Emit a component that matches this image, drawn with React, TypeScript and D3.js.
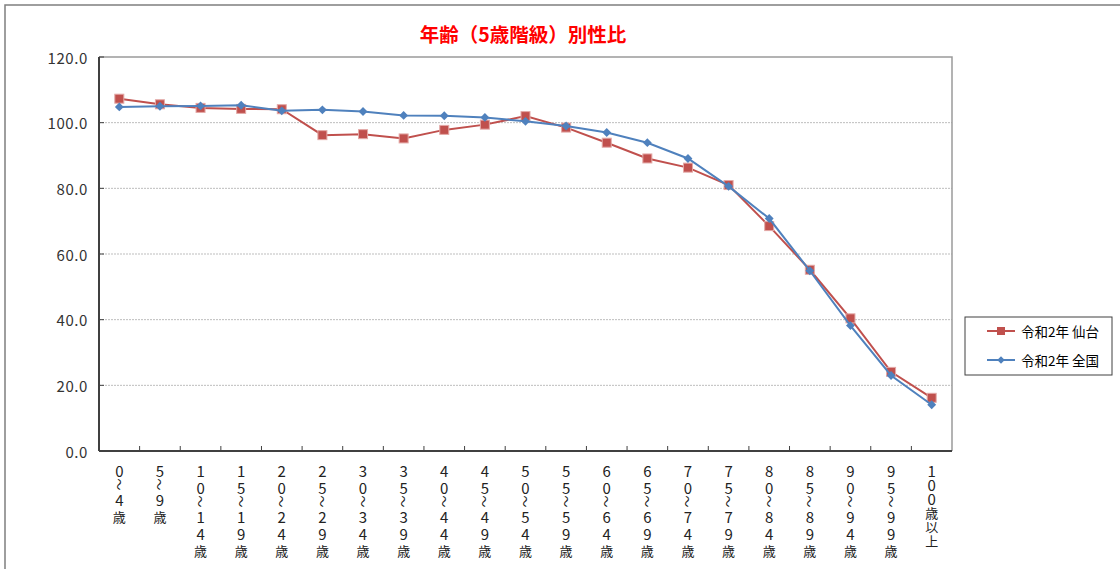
import React, { useEffect, useRef } from 'react'
import * as d3 from 'd3'

const ageLabels = [
  '0～4歳', '5～9歳', '10～14歳', '15～19歳', '20～24歳', '25～29歳', '30～34歳',
  '35～39歳', '40～44歳', '45～49歳', '50～54歳', '55～59歳', '60～64歳', '65～69歳',
  '70～74歳', '75～79歳', '80～84歳', '85～89歳', '90～94歳', '95～99歳', '100歳以上',
]
const sendai = [107.3, 105.6, 104.5, 104.2, 104.1, 96.2, 96.5, 95.2, 97.8, 99.4, 102.0, 98.5, 93.9, 89.1, 86.3, 81.0, 68.5, 55.2, 40.4, 24.1, 16.2]
const zenkoku = [104.8, 105.0, 105.1, 105.3, 103.6, 103.9, 103.4, 102.2, 102.1, 101.6, 100.4, 99.0, 97.0, 93.9, 89.1, 80.6, 70.8, 54.9, 38.2, 23.0, 14.1]
const yTicks = [0, 20, 40, 60, 80, 100, 120]
const seriesNames = ['令和2年 仙台', '令和2年 全国']

const W = 1120
const H = 569
const FONT = '"Noto Sans CJK JP", "Noto Sans", sans-serif'
const RED = '#C0504D'
const BLUE = '#4F81BD'

const App = () => {
  const ref = useRef<SVGSVGElement>(null)

  useEffect(() => {
    const svg = d3.select(ref.current)
    svg.selectAll('*').remove()

    const plot = { left: 99, right: 952, top: 57, bottom: 451 }
    const x = d3.scaleBand().domain(ageLabels).range([plot.left, plot.right])
    const y = d3.scaleLinear().domain([0, 120]).range([plot.bottom, plot.top])
    const cx = (i: number) => (x(ageLabels[i]) as number) + x.bandwidth() / 2

    // outer chart frame
    svg.append('rect')
      .attr('x', 5).attr('y', 5).attr('width', W + 20).attr('height', H + 20)
      .attr('fill', '#fff').attr('stroke', '#7f7f7f').attr('stroke-width', 1.5)

    svg.append('text')
      .text('年齢（5歳階級）別性比')
      .attr('x', 523).attr('y', 33)
      .attr('text-anchor', 'middle').attr('dominant-baseline', 'central')
      .attr('font-family', FONT).attr('font-weight', 'bold').attr('font-size', 19.5)
      .attr('fill', '#ff0000')

    // gridlines
    svg.append('g')
      .selectAll('line')
      .data(yTicks.filter(t => t > 0 && t < 120))
      .enter()
      .append('line')
      .attr('x1', plot.left).attr('x2', plot.right)
      .attr('y1', d => y(d)).attr('y2', d => y(d))
      .attr('stroke', '#bdbdbd').attr('stroke-dasharray', '2,1')

    // plot frame top / right
    svg.append('path')
      .attr('d', `M${plot.left},${plot.top}H${plot.right}V${plot.bottom}`)
      .attr('fill', 'none').attr('stroke', '#9a9a9a').attr('stroke-width', 1.5)

    // y axis
    svg.append('line')
      .attr('x1', plot.left).attr('x2', plot.left).attr('y1', plot.top).attr('y2', plot.bottom)
      .attr('stroke', '#404040').attr('stroke-width', 2)
    svg.append('g')
      .selectAll('line')
      .data(yTicks)
      .enter()
      .append('line')
      .attr('x1', plot.left).attr('x2', plot.left + 5)
      .attr('y1', d => y(d)).attr('y2', d => y(d))
      .attr('stroke', '#404040')
    svg.append('g')
      .selectAll('text')
      .data(yTicks)
      .enter()
      .append('text')
      .text(d => d.toFixed(1))
      .attr('x', 88).attr('y', d => y(d))
      .attr('text-anchor', 'end').attr('dominant-baseline', 'central')
      .attr('font-family', FONT).attr('font-size', 15).attr('letter-spacing', 0.6)
      .attr('fill', '#333')

    // x axis
    svg.append('line')
      .attr('x1', plot.left).attr('x2', plot.right).attr('y1', plot.bottom).attr('y2', plot.bottom)
      .attr('stroke', '#404040').attr('stroke-width', 2)
    svg.append('g')
      .selectAll('line')
      .data(ageLabels.slice(1))
      .enter()
      .append('line')
      .attr('x1', d => x(d) as number).attr('x2', d => x(d) as number)
      .attr('y1', plot.bottom).attr('y2', plot.bottom - 5)
      .attr('stroke', '#404040')

    // vertical category labels, one char per line
    ageLabels.forEach((lab, i) => {
      const chars = Array.from(lab)
      const last = !lab.includes('～')
      const step = (c: string) => (last ? 14 : c === '～' ? 12 : 17)
      let cy = 470
      const g = svg.append('g')
      chars.forEach((c, k) => {
        if (k > 0) cy += step(chars[k - 1]) / 2 + step(c) / 2
        const t = g.append('text')
          .text(c)
          .attr('x', cx(i)).attr('y', cy)
          .attr('text-anchor', 'middle').attr('dominant-baseline', 'central')
          .attr('font-family', FONT).attr('font-size', /[0-9]/.test(c) ? 15 : 13)
          .attr('fill', '#222')
        if (c === '～') t.attr('transform', `rotate(90, ${cx(i)}, ${cy})`).attr('font-size', 12)
      })
    })

    const line = d3.line<number>().x((_, i) => cx(i)).y(d => y(d))

    // 仙台
    svg.append('path').datum(sendai)
      .attr('d', line).attr('fill', 'none').attr('stroke', RED).attr('stroke-width', 2)
    svg.append('g').selectAll('rect')
      .data(sendai).enter().append('rect')
      .attr('x', (_, i) => cx(i) - 4.5).attr('y', d => y(d) - 4.5)
      .attr('width', 9).attr('height', 9)
      .attr('fill', RED).attr('stroke', '#e3a8a6').attr('stroke-width', 1)

    // 全国
    const diamond = d3.symbol().type(d3.symbolDiamond2).size(50)
    svg.append('path').datum(zenkoku)
      .attr('d', line).attr('fill', 'none').attr('stroke', BLUE).attr('stroke-width', 2)
    svg.append('g').selectAll('path')
      .data(zenkoku).enter().append('path')
      .attr('d', diamond)
      .attr('transform', (d, i) => `translate(${cx(i)},${y(d)})`)
      .attr('fill', BLUE)

    // legend
    const lg = svg.append('g')
    lg.append('rect')
      .attr('x', 965).attr('y', 317).attr('width', 147).attr('height', 58)
      .attr('fill', '#fff').attr('stroke', '#404040').attr('stroke-width', 1)
    const items = [
      { name: seriesNames[0], color: RED, y: 331 },
      { name: seriesNames[1], color: BLUE, y: 360 },
    ]
    items.forEach((it, k) => {
      lg.append('line')
        .attr('x1', 987).attr('x2', 1015).attr('y1', it.y).attr('y2', it.y)
        .attr('stroke', it.color).attr('stroke-width', 2)
      if (k === 0) {
        lg.append('rect')
          .attr('x', 997).attr('y', it.y - 4).attr('width', 8).attr('height', 8)
          .attr('fill', RED)
      } else {
        lg.append('path')
          .attr('d', d3.symbol().type(d3.symbolDiamond2).size(36)())
          .attr('transform', `translate(1001,${it.y})`)
          .attr('fill', BLUE)
      }
      lg.append('text')
        .text(it.name)
        .attr('x', 1021).attr('y', it.y)
        .attr('dominant-baseline', 'central')
        .attr('font-family', FONT).attr('font-size', 13.5).attr('fill', '#000')
    })
  }, [])

  return (
    <svg
      ref={ref}
      width={W}
      height={H}
      style={{ position: 'absolute', left: 0, top: 0, background: '#fff' }}
    />
  )
}

export default App
